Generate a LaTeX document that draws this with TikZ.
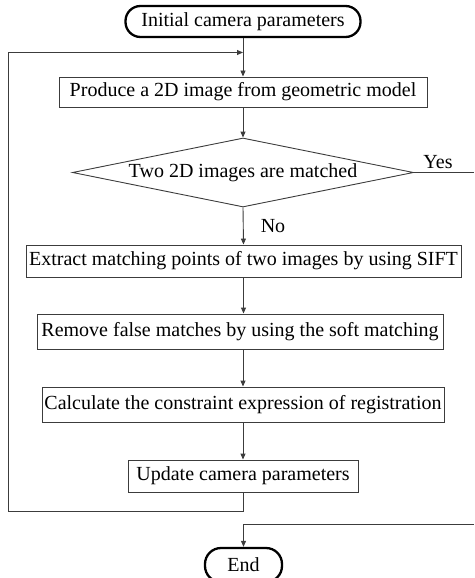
\documentclass[tikz,border=0pt]{standalone}
\usepackage{fontspec}
\setmainfont{Liberation Serif}
\usetikzlibrary{arrows.meta,shapes.geometric}
\definecolor{lin}{HTML}{3C3C3C}
\tikzset{
  x=1pt,y=-1pt,
  every node/.style={font=\fontsize{20}{22}\selectfont, inner sep=0pt},
  procbox/.style={draw=lin, line width=0.9pt, rectangle, minimum height=#1},
  procbox/.default=32pt,
  termbox/.style={draw=black, line width=2.3pt, rectangle, rounded corners=15pt},
  decbox/.style={draw=lin, line width=0.9pt, diamond, minimum width=341pt, minimum height=69pt},
  conn/.style={draw=lin, line width=0.9pt},
  arr/.style={conn, -{Triangle[length=6pt,width=5pt]}},
}
\begin{document}
\begin{tikzpicture}
\useasboundingbox (0,0) rectangle (474,578);
\node[termbox, minimum width=235pt, minimum height=31pt] (start) at (243,21.5) {Initial camera parameters};
\node[procbox=30pt, minimum width=368pt] (produce) at (243,92) {Produce a 2D image from geometric model};
\node[decbox] (dec) at (243,172.5) {\makebox[0pt]{Two 2D images are matched}};
\node[procbox=32pt, minimum width=435pt] (extract) at (243.5,261) {Extract matching points of two images by using SIFT};
\node[procbox=35pt, minimum width=406pt] (remove) at (240,331.5) {Remove false matches by using the soft matching};
\node[procbox=35pt, minimum width=402pt] (calc) at (243,404.5) {Calculate the constraint expression of registration};
\node[procbox=32pt, minimum width=230pt] (update) at (243,476) {Update camera parameters};
\node[termbox, rounded corners=16pt, minimum width=77pt, minimum height=34pt] (end) at (243.5,565) {End};
\node (yes) at (438,162) {Yes};
\node (no) at (273,226) {No};
\coordinate (yesR) at (474,172.5);
\coordinate (endR) at (474,524);
\coordinate (fbl) at (8,511);
\coordinate (loopin) at (243,52.5);
\draw[arr] (start.south) -- (produce.north);
\draw[arr] (update.south) |- (fbl) |- (loopin);
\draw[arr] (produce.south) -- (dec.north);
\draw[arr] (dec.south) -- (extract.north);
\draw[arr] (extract.south) -- (extract.south |- remove.north);
\draw[arr] (remove.south -| calc.north) -- (calc.north);
\draw[arr] (calc.south) -- (update.north);
\draw[conn] (dec.east) -- (yesR);
\draw[arr] (endR) -| (end.north);
\end{tikzpicture}
\end{document}
